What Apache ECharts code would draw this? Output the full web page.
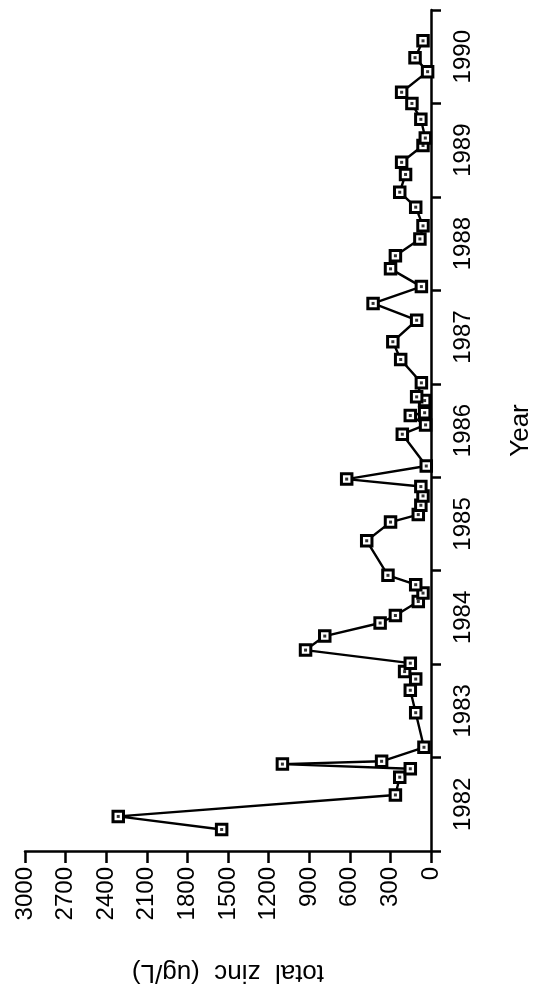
<!DOCTYPE html>
<html>
<head>
<meta charset="utf-8">
<script src="https://cdn.jsdelivr.net/npm/echarts@6/dist/echarts.min.js"></script>
<style>
  html, body { margin: 0; padding: 0; background: #fff; }
  #chart { width: 542px; height: 999px; }
</style>
</head>
<body>
<div id="chart"></div>
<script>
// Sampling dates (decimal years) and total zinc concentrations (ug/L)
var sampleYears = [
  1982.23, 1982.37, 1982.60, 1982.79, 1982.88, 1982.93, 1982.96, 1983.11,
  1983.48, 1983.72, 1983.84, 1983.92, 1984.01, 1984.15, 1984.30, 1984.44,
  1984.52, 1984.67, 1984.76, 1984.85, 1984.95, 1985.32, 1985.52, 1985.60,
  1985.70, 1985.80, 1985.90, 1985.98, 1986.12, 1986.46, 1986.56, 1986.66,
  1986.69, 1986.82, 1986.86, 1987.01, 1987.26, 1987.45, 1987.68, 1987.86,
  1988.04, 1988.23, 1988.37, 1988.55, 1988.69, 1988.89, 1989.05, 1989.24,
  1989.37, 1989.55, 1989.63, 1989.83, 1990.00, 1990.12, 1990.34, 1990.49,
  1990.67
];
var totalZinc = [
  1547, 2311, 263, 231, 153, 1098, 365, 52,
  113, 153, 113, 195, 153, 927, 785, 376,
  263, 94, 59, 113, 318, 475, 299, 94,
  75, 59, 75, 623, 35, 212, 40, 153,
  47, 47, 106, 71, 224, 282, 106, 428,
  71, 299, 263, 82, 59, 113, 231, 188,
  217, 59, 42, 75, 141, 217, 25, 118,
  59
];
// Year band labels along the time axis
var yearLabels = ['1982', '1983', '1984', '1985', '1986', '1987', '1988', '1989', '1990'];
var zincMax = 3000;
var zincStep = 300;

var points = sampleYears.map(function (y, i) { return [totalZinc[i], y]; });

var FONT = 'Liberation Sans, Arial, Helvetica, sans-serif';
var chart = echarts.init(document.getElementById('chart'), null, { renderer: 'canvas' });

chart.setOption({
  animation: false,
  backgroundColor: '#fff',
  grid: { left: 25, right: 92, top: 10, bottom: 148, containLabel: false },
  xAxis: {
    type: 'value',
    inverse: true,
    min: 0,
    max: zincMax,
    interval: zincStep,
    position: 'bottom',
    name: 'total  zinc  (ug/L)',
    nameLocation: 'middle',
    nameGap: 108,
    nameRotate: 180,
    nameTextStyle: { fontFamily: FONT, fontSize: 26, color: '#000' },
    axisLine: { show: true, onZero: false, lineStyle: { color: '#000', width: 2.5 } },
    axisTick: { show: true, inside: false, length: 12, lineStyle: { color: '#000', width: 2.5 } },
    axisLabel: {
      rotate: 90,
      margin: 16,
      fontFamily: FONT,
      fontSize: 24,
      color: '#000',
      formatter: function (v) { return String(v); }
    },
    splitLine: { show: false }
  },
  yAxis: [
    {
      type: 'category',
      data: yearLabels,
      position: 'right',
      boundaryGap: true,
      name: 'Year',
      nameLocation: 'middle',
      nameGap: 77,
      nameRotate: 90,
      nameTextStyle: { fontFamily: FONT, fontSize: 26, color: '#000' },
      axisLine: { show: true, onZero: false, lineStyle: { color: '#000', width: 2.5 } },
      axisTick: { show: true, inside: false, length: 10, alignWithLabel: false, lineStyle: { color: '#000', width: 2.5 } },
      axisLabel: {
        rotate: 90,
        margin: 20,
        fontFamily: FONT,
        fontSize: 24,
        color: '#000'
      },
      splitLine: { show: false }
    },
    {
      type: 'value',
      min: 1982,
      max: 1991,
      show: false,
      position: 'right'
    }
  ],
  series: [
    {
      type: 'line',
      xAxisIndex: 0,
      yAxisIndex: 1,
      data: points,
      symbol: 'rect',
      symbolSize: 10.5,
      showAllSymbol: true,
      lineStyle: { color: '#000', width: 2.4 },
      itemStyle: { color: '#fff', borderColor: '#000', borderWidth: 3 },
      z: 2
    },
    {
      type: 'scatter',
      xAxisIndex: 0,
      yAxisIndex: 1,
      data: points,
      symbol: 'rect',
      symbolSize: 3,
      itemStyle: { color: '#000' },
      z: 3
    }
  ]
});
</script>
</body>
</html>
